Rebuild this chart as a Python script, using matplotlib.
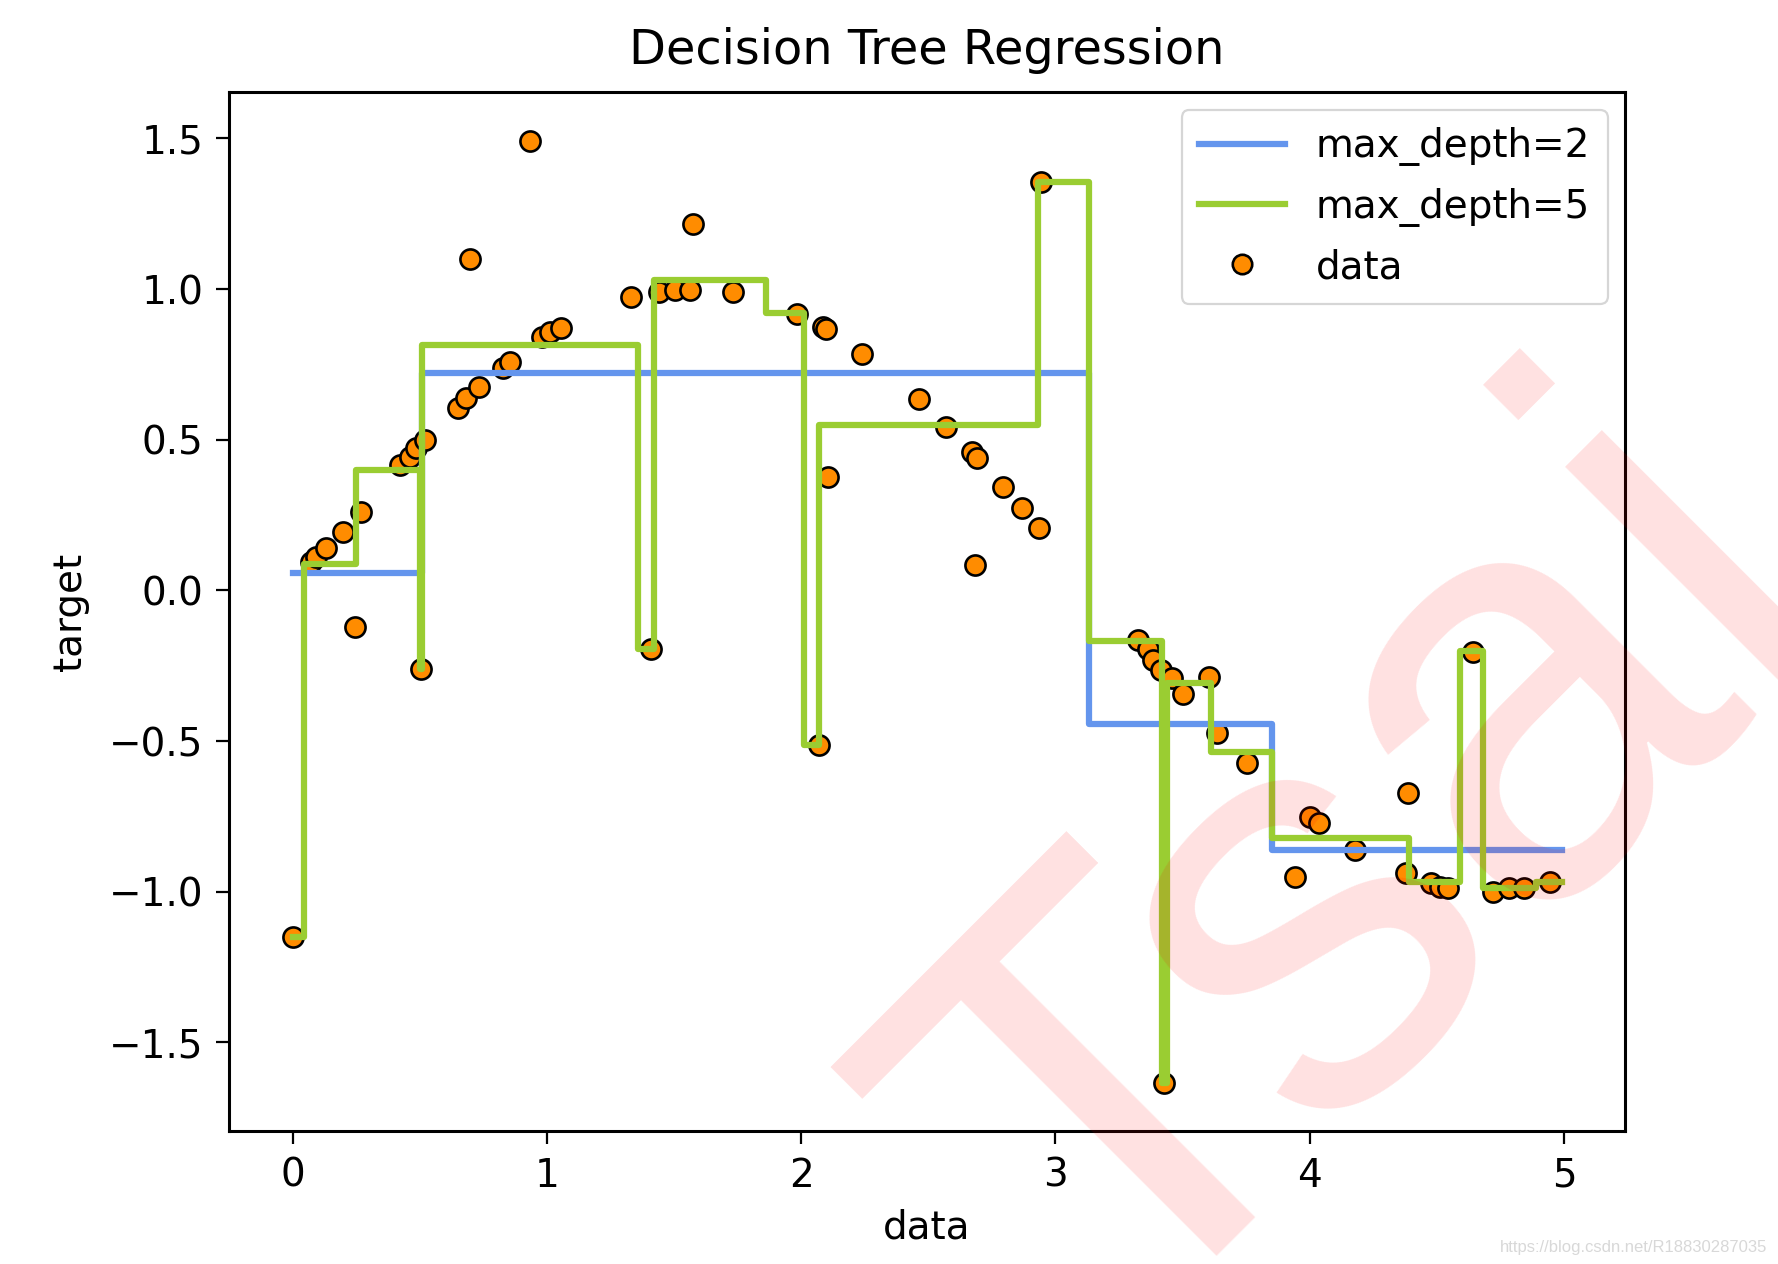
import matplotlib
matplotlib.use("Agg")
import matplotlib.pyplot as plt
from matplotlib.lines import Line2D

# sample points
data_x = [0.001, 0.072, 0.093, 0.133, 0.199, 0.244, 0.268, 0.421, 0.461, 0.487,
          0.506, 0.519, 0.651, 0.683, 0.699, 0.732, 0.828, 0.854, 0.933, 0.979,
          1.012, 1.054, 1.329, 1.410, 1.442, 1.505, 1.563, 1.573, 1.730, 1.983,
          2.072, 2.085, 2.096, 2.105, 2.240, 2.462, 2.571, 2.670, 2.682, 2.693,
          2.794, 2.870, 2.935, 2.945, 3.324, 3.362, 3.384, 3.414, 3.428, 3.460,
          3.502, 3.603, 3.636, 3.754, 3.942, 4.002, 4.037, 4.178, 4.379, 4.386,
          4.477, 4.514, 4.544, 4.642, 4.722, 4.785, 4.842, 4.943]
data_y = [-1.150, 0.095, 0.112, 0.139, 0.195, -0.121, 0.261, 0.416, 0.443, 0.471,
          -0.262, 0.499, 0.604, 0.637, 1.100, 0.676, 0.737, 0.759, 1.490, 0.842,
          0.858, 0.870, 0.972, -0.196, 0.991, 0.997, 0.997, 1.215, 0.990, 0.917,
          -0.513, 0.875, 0.866, 0.375, 0.783, 0.635, 0.541, 0.460, 0.084, 0.438,
          0.344, 0.272, 0.206, 1.356, -0.165, -0.193, -0.231, -0.265, -1.635, -0.292,
          -0.344, -0.287, -0.473, -0.572, -0.951, -0.751, -0.773, -0.862, -0.939, -0.672,
          -0.972, -0.984, -0.989, -0.204, -1.000, -0.989, -0.989, -0.967]

# tree predictions: split edges and leaf values
depth2_edges = [0.0, 0.51, 3.13, 3.85, 4.99]
depth2_values = [0.057, 0.72, -0.445, -0.862]
depth5_edges = [0.0, 0.045, 0.25, 0.50, 0.51, 1.36, 1.42, 1.86, 2.01, 2.07, 2.93,
                3.13, 3.42, 3.44, 3.61, 3.85, 4.39, 4.59, 4.68, 4.89, 4.99]
depth5_values = [-1.15, 0.087, 0.40, -0.262, 0.814, -0.196, 1.03, 0.922, -0.513,
                 0.549, 1.356, -0.168, -1.635, -0.309, -0.536, -0.821, -0.967,
                 -0.200, -0.989, -0.967]

plt.rcParams["font.family"] = ["DejaVu Sans"]
plt.rcParams["axes.unicode_minus"] = True

fig = plt.figure(figsize=(17.78, 12.64), dpi=100)
ax = fig.add_axes([0.1288, 0.105, 0.9140 - 0.1288, 0.927 - 0.105])

ax.scatter(data_x, data_y, s=210, c="darkorange", edgecolors="black",
           linewidths=1.9, zorder=2)
ax.step(depth2_edges, depth2_values + [depth2_values[-1]], where="post",
        color="cornflowerblue", linewidth=4.5, zorder=3)
ax.step(depth5_edges, depth5_values + [depth5_values[-1]], where="post",
        color="yellowgreen", linewidth=4.5, zorder=4)

ax.set_xlim(-0.25, 5.24)
ax.set_ylim(-1.795, 1.653)
ax.set_xticks([0, 1, 2, 3, 4, 5])
ax.set_yticks([-1.5, -1.0, -0.5, 0.0, 0.5, 1.0, 1.5])
ax.tick_params(labelsize=28, length=9.5, width=1.6, pad=9)
for sp in ax.spines.values():
    sp.set_linewidth(2.2)

ax.set_xlabel("data", fontsize=28, labelpad=10)
ax.set_ylabel("target", fontsize=28, labelpad=14)
ax.set_title("Decision Tree Regression", fontsize=34.5, pad=20)

handles = [
    Line2D([], [], color="cornflowerblue", linewidth=4.5),
    Line2D([], [], color="yellowgreen", linewidth=4.5),
    Line2D([], [], linestyle="none", marker="o", markersize=14,
           markerfacecolor="darkorange", markeredgecolor="black",
           markeredgewidth=1.9),
]
leg = ax.legend(handles, ["max_depth=2", "max_depth=5", "data"],
                loc="upper right", fontsize=28, handlelength=2.2,
                borderpad=0.45, labelspacing=0.55, borderaxespad=0.45,
                fancybox=True, framealpha=0.8)
leg.get_frame().set_edgecolor("0.8")
leg.get_frame().set_linewidth(1.6)

# blog watermark
fig.text(0.622, -0.072, "Tsai", family="Liberation Sans",
         fontsize=425, color="red", alpha=0.12, rotation=45,
         rotation_mode="anchor", ha="left", va="baseline", zorder=10)
fig.text(0.994, 0.0095, "https://blog.csdn.net/R18830287035",
         family="Liberation Sans", fontsize=12, color="#d8d8d8",
         ha="right", va="baseline")

fig.savefig("out.png", dpi=100)
